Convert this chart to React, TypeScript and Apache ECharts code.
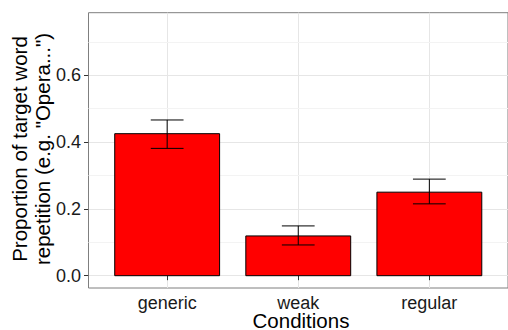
import React, { useEffect, useRef } from "react";
import * as echarts from "echarts";

const categories = ["generic", "weak", "regular"];
const means = [0.425, 0.119, 0.25];
const lowers = [0.381, 0.092, 0.215];
const uppers = [0.466, 0.149, 0.289];
const yTicks = [0, 0.2, 0.4, 0.6];
const yMinor = [0.1, 0.3, 0.5, 0.7];
const xPositions = [1, 2, 3];

const FONT = "Liberation Sans, Arial, Helvetica, sans-serif";

export default function App() {
  const ref = useRef<HTMLDivElement>(null);
  useEffect(() => {
    if (!ref.current) return;
    const chart = echarts.init(ref.current, null, { renderer: "svg" });
    const barData = categories.map((c, i) => [xPositions[i], means[i]]);
    const errData = categories.map((c, i) => [xPositions[i], lowers[i], uppers[i]]);
    chart.setOption({
      animation: false,
      backgroundColor: "#ffffff",
      grid: {
        left: 88.5,
        top: 12.7,
        width: 425.6,
        height: 275.3,
        show: true,
        backgroundColor: "#ffffff",
        borderColor: "#7f7f7f",
        borderWidth: 1,
      },
      xAxis: {
        type: "value",
        min: 0.4,
        max: 3.6,
        axisLine: { show: false },
        axisTick: {
          show: true,
          customValues: xPositions,
          length: 4.5,
          lineStyle: { color: "#333333", width: 1 },
        },
        axisLabel: {
          customValues: xPositions,
          formatter: (v: number) => categories[Math.round(v) - 1] ?? "",
          fontFamily: FONT,
          fontSize: 18,
          lineHeight: 17,
          color: "#1a1a1a",
          margin: 6,
        },
        splitLine: { show: true, lineStyle: { color: "#e6e6e6", width: 1 } },
      },
      yAxis: {
        type: "value",
        min: -0.0368,
        max: 0.787,
        axisLine: { show: false },
        axisTick: {
          show: true,
          customValues: yTicks,
          length: 4.5,
          lineStyle: { color: "#333333", width: 1 },
        },
        axisLabel: {
          customValues: yTicks,
          formatter: (v: number) => v.toFixed(1),
          fontFamily: FONT,
          fontSize: 18,
          color: "#1a1a1a",
          margin: 7.5,
        },
        splitLine: { show: true, lineStyle: { color: "#e6e6e6", width: 1 } },
      },
      graphic: [
        {
          type: "text",
          x: 19,
          y: 149,
          rotation: Math.PI / 2,
          style: {
            text: "Proportion of target word",
            fontFamily: FONT,
            fontSize: 20.5,
            fill: "#000000",
            align: "center",
            verticalAlign: "middle",
          },
        },
        {
          type: "text",
          x: 42.7,
          y: 149,
          rotation: Math.PI / 2,
          style: {
            text: 'repetition (e.g. "Opera...")',
            fontFamily: FONT,
            fontSize: 20.5,
            fill: "#000000",
            align: "center",
            verticalAlign: "middle",
          },
        },
        {
          type: "text",
          x: 301,
          y: 320.5,
          style: {
            text: "Conditions",
            fontFamily: FONT,
            fontSize: 20.5,
            lineHeight: 18,
            fill: "#000000",
            align: "center",
            verticalAlign: "middle",
          },
        },
      ],
      series: [
        {
          type: "line",
          data: [],
          z: 1,
          silent: true,
          markLine: {
            silent: true,
            symbol: "none",
            label: { show: false },
            lineStyle: { color: "#f3f3f3", width: 1, type: "solid" },
            data: yMinor.map((v) => ({ yAxis: v })),
          },
        },
        {
          type: "custom",
          data: barData,
          z: 5,
          silent: true,
          renderItem: (params: any, api: any) => {
            const x = api.value(0);
            const v = api.value(1);
            const p0 = api.coord([x - 0.4, v]);
            const p1 = api.coord([x + 0.4, 0]);
            return {
              type: "rect",
              shape: { x: p0[0], y: p0[1], width: p1[0] - p0[0], height: p1[1] - p0[1] },
              style: { fill: "#ff0000", stroke: "#000000", lineWidth: 1 },
            };
          },
        },
        {
          type: "custom",
          data: errData,
          z: 6,
          silent: true,
          renderItem: (params: any, api: any) => {
            const x = api.value(0);
            const lo = api.value(1);
            const hi = api.value(2);
            const a = api.coord([x - 0.125, hi]);
            const b = api.coord([x + 0.125, hi]);
            const c = api.coord([x - 0.125, lo]);
            const d = api.coord([x + 0.125, lo]);
            const m1 = api.coord([x, hi]);
            const m2 = api.coord([x, lo]);
            const st = { stroke: "#000000", lineWidth: 1 };
            return {
              type: "group",
              children: [
                { type: "line", shape: { x1: a[0], y1: a[1], x2: b[0], y2: b[1] }, style: st },
                { type: "line", shape: { x1: c[0], y1: c[1], x2: d[0], y2: d[1] }, style: st },
                { type: "line", shape: { x1: m1[0], y1: m1[1], x2: m2[0], y2: m2[1] }, style: st },
              ],
            };
          },
        },
      ],
    });
    return () => chart.dispose();
  }, []);
  return (
    <div
      ref={ref}
      style={{ position: "absolute", left: 0, top: 0, width: 508, height: 330 }}
    />
  );
}
